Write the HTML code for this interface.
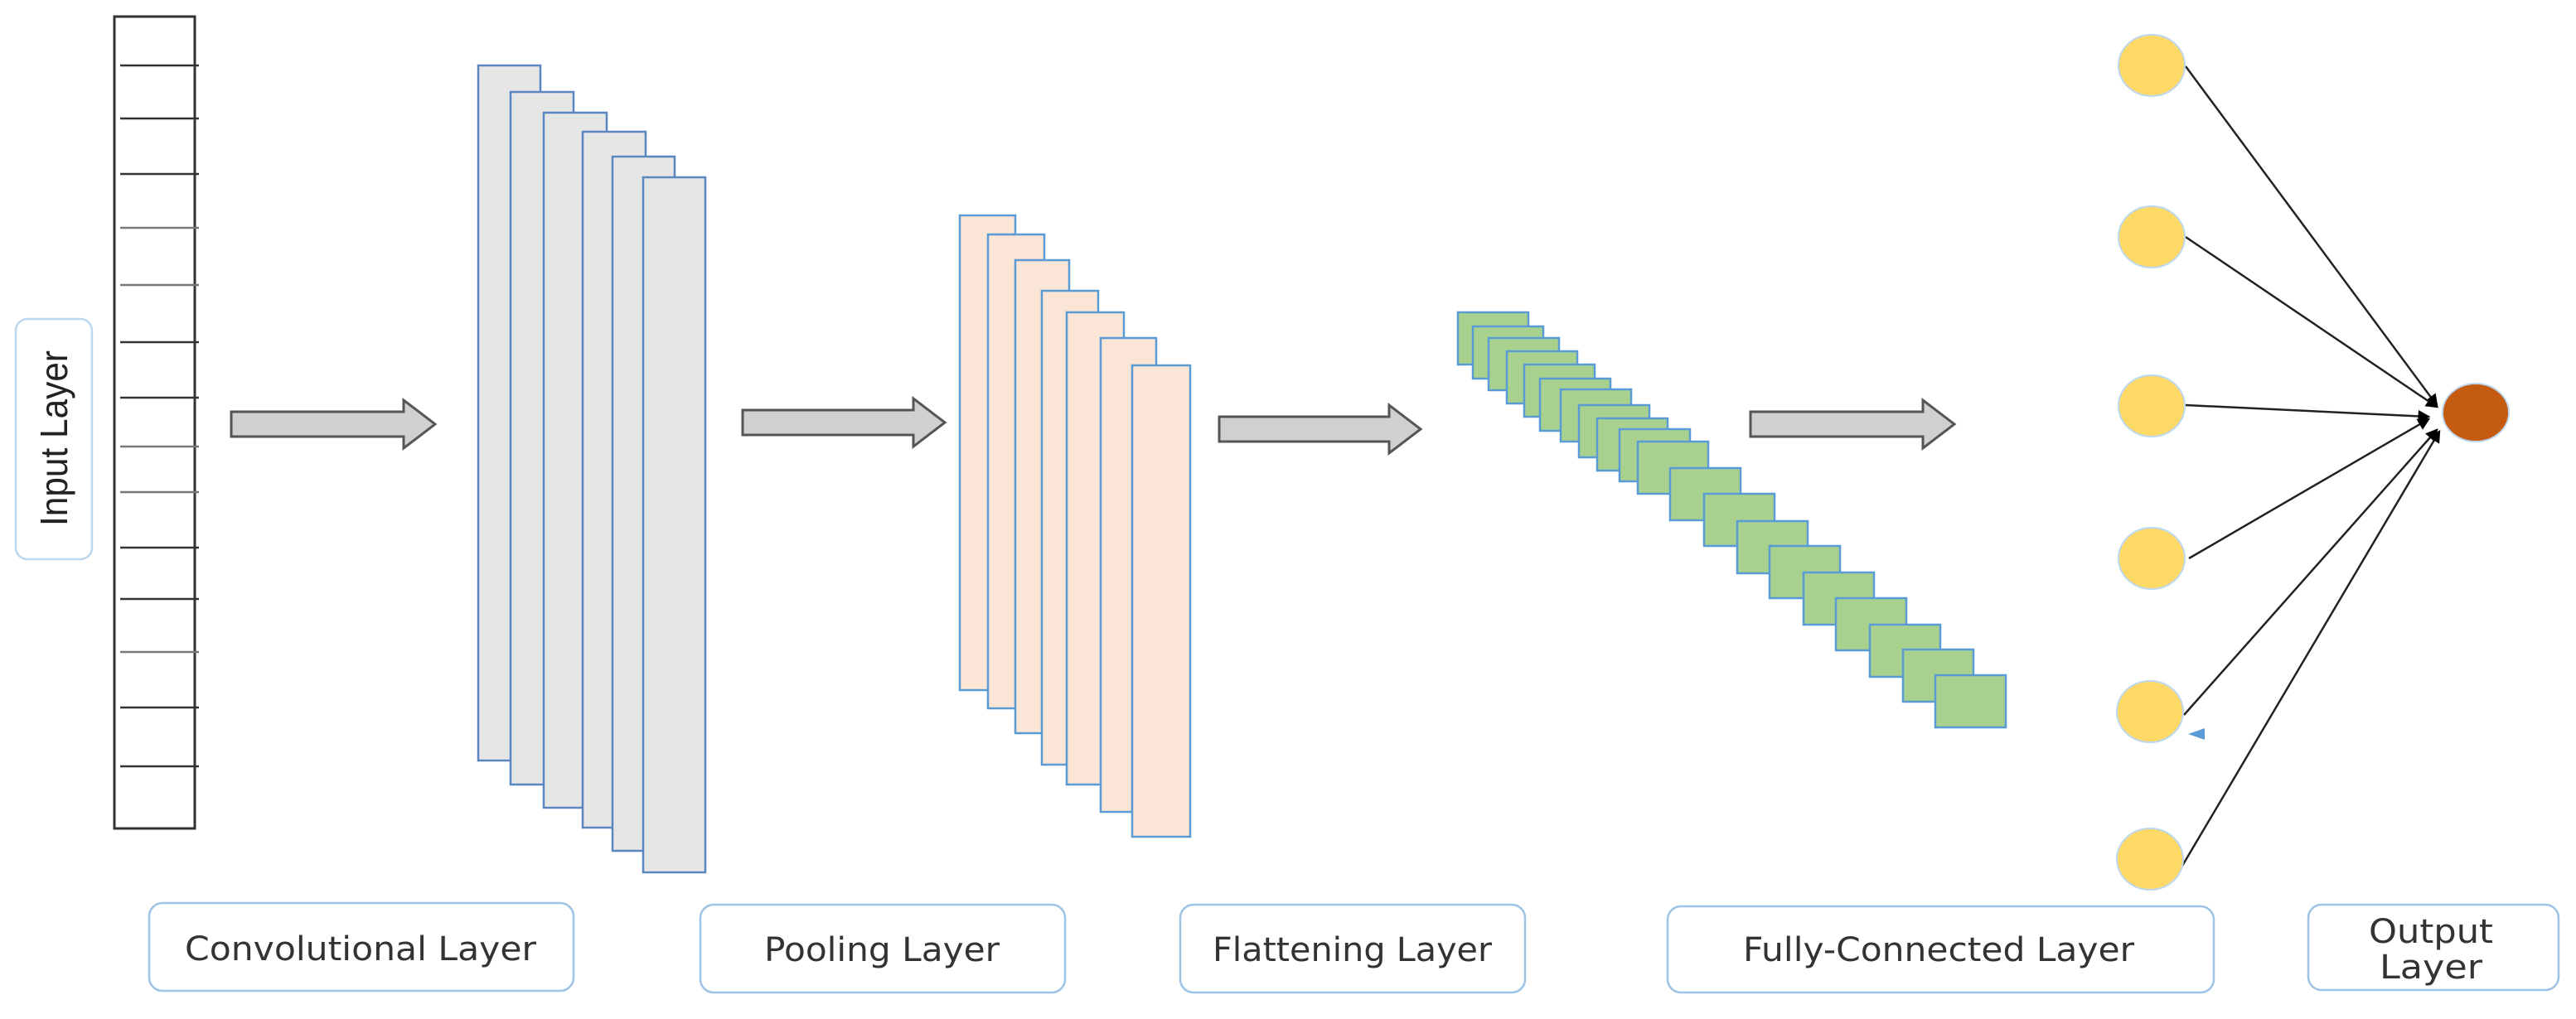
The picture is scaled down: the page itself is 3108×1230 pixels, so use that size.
<!DOCTYPE html>
<html><head><meta charset="utf-8"><style>html,body{margin:0;padding:0;background:#fff}svg{display:block}</style></head>
<body>
<svg width="3108" height="1230" viewBox="0 0 3108 1230" xmlns="http://www.w3.org/2000/svg">
<defs>
<marker id="ah" markerWidth="6" markerHeight="6" refX="5" refY="3" orient="auto" markerUnits="strokeWidth"><path d="M0,0 L6,3 L0,6 z" fill="#000"/></marker>
</defs>
<!-- Input layer label -->
<rect x="19" y="385" width="92" height="290" rx="14" fill="#fff" stroke="#bdd7ee" stroke-width="2.5"/>
<text transform="translate(81,635) rotate(-90)" font-family="Liberation Sans, sans-serif" font-size="46" fill="#222" textLength="212" lengthAdjust="spacingAndGlyphs">Input Layer</text>
<!-- Input bar -->
<rect x="138" y="20" width="97" height="980" fill="#fff" stroke="#333" stroke-width="3"/>
<g stroke="#333" stroke-width="2.5">
<line x1="145" y1="79" x2="240" y2="79"/><line x1="145" y1="143" x2="240" y2="143"/><line x1="145" y1="210" x2="240" y2="210"/>
<line x1="145" y1="275" x2="240" y2="275" stroke="#777"/><line x1="145" y1="344" x2="240" y2="344" stroke="#777"/><line x1="145" y1="413" x2="240" y2="413"/>
<line x1="145" y1="480" x2="240" y2="480"/><line x1="145" y1="539" x2="240" y2="539" stroke="#777"/><line x1="145" y1="594" x2="240" y2="594" stroke="#777"/>
<line x1="145" y1="661" x2="240" y2="661"/><line x1="145" y1="723" x2="240" y2="723"/><line x1="145" y1="787" x2="240" y2="787" stroke="#777"/>
<line x1="145" y1="854" x2="240" y2="854"/><line x1="145" y1="925" x2="240" y2="925"/>
</g>
<!-- arrows -->
<g fill="#d0d0d0" stroke="#555" stroke-width="3">
<path d="M279,497 L487,497 L487,483 L525,512 L487,541 L487,527 L279,527 Z"/>
<path d="M896,495 L1102,495 L1102,481 L1140,510 L1102,539 L1102,525 L896,525 Z"/>
<path d="M1471,503 L1676,503 L1676,489 L1714,518 L1676,547 L1676,533 L1471,533 Z"/>
<path d="M2112,497 L2320,497 L2320,483 L2358,512 L2320,541 L2320,527 L2112,527 Z"/>
</g>
<!-- conv -->
<g fill="#e6e6e6" stroke="#5b87c0" stroke-width="2.5">
<rect x="577" y="79" width="75" height="839"/>
<rect x="616" y="111" width="76" height="836"/>
<rect x="656" y="136" width="76" height="839"/>
<rect x="703" y="159" width="76" height="840"/>
<rect x="739" y="189" width="75" height="838"/>
<rect x="776" y="214" width="75" height="839"/>
</g>
<!-- pool -->
<g fill="#fbe5d6" stroke="#5b9bd5" stroke-width="2.5">
<rect x="1158" y="260" width="67" height="573"/>
<rect x="1192" y="283" width="68" height="572"/>
<rect x="1225" y="314" width="65" height="571"/>
<rect x="1257" y="351" width="68" height="572"/>
<rect x="1287" y="377" width="69" height="570"/>
<rect x="1328" y="408" width="67" height="572"/>
<rect x="1366" y="441" width="70" height="569"/>
</g>
<!-- flatten -->
<g fill="#a9d18e" stroke="#5b9bd5" stroke-width="2.5">
<rect x="1759" y="377" width="85" height="63"/><rect x="1777" y="394" width="85" height="63"/>
<rect x="1796" y="408" width="85" height="63"/><rect x="1818" y="424" width="85" height="63"/>
<rect x="1839" y="440" width="85" height="63"/><rect x="1858" y="457" width="85" height="63"/>
<rect x="1883" y="470" width="85" height="63"/><rect x="1905" y="489" width="85" height="63"/>
<rect x="1927" y="505" width="85" height="63"/><rect x="1954" y="518" width="85" height="63"/>
<rect x="1976" y="533" width="85" height="63"/><rect x="2015" y="565" width="85" height="63"/>
<rect x="2056" y="596" width="85" height="63"/><rect x="2096" y="629" width="85" height="63"/>
<rect x="2135" y="659" width="85" height="63"/><rect x="2176" y="691" width="85" height="63"/>
<rect x="2215" y="722" width="85" height="63"/><rect x="2256" y="754" width="85" height="63"/>
<rect x="2296" y="784" width="85" height="63"/><rect x="2335" y="815" width="85" height="63"/>
</g>
<!-- connections -->
<g stroke="#222" stroke-width="2.5" marker-end="url(#ah)">
<line x1="2637" y1="80" x2="2940" y2="489"/>
<line x1="2637" y1="286" x2="2940" y2="491"/>
<line x1="2637" y1="489" x2="2930" y2="503"/>
<line x1="2641" y1="674" x2="2930" y2="506"/>
<line x1="2635" y1="863" x2="2940" y2="519"/>
<line x1="2633" y1="1045" x2="2943" y2="521"/>
</g>
<!-- neurons -->
<g fill="#ffd966" stroke="#bdd7ee" stroke-width="2">
<ellipse cx="2596" cy="79" rx="40" ry="37"/>
<ellipse cx="2596" cy="286" rx="40" ry="37"/>
<ellipse cx="2596" cy="490" rx="40" ry="37"/>
<ellipse cx="2596" cy="674" rx="40" ry="37"/>
<ellipse cx="2594" cy="859" rx="40" ry="37"/>
<ellipse cx="2594" cy="1037" rx="40" ry="37"/>
</g>
<ellipse cx="2987" cy="498" rx="40" ry="35" fill="#c55a11" stroke="#bdd7ee" stroke-width="2"/>
<path d="M2640,886 L2660,879 L2660,893 Z" fill="#5b9bd5"/>
<!-- label boxes -->
<g fill="#fff" stroke="#9dc3e6" stroke-width="2.5">
<rect x="180" y="1090" width="512" height="106" rx="16"/>
<rect x="845" y="1092" width="440" height="106" rx="16"/>
<rect x="1424" y="1092" width="416" height="106" rx="16"/>
<rect x="2012" y="1094" width="659" height="104" rx="16"/>
<rect x="2785" y="1092" width="302" height="103" rx="16"/>
</g>
<g font-family="DejaVu Sans, sans-serif" font-size="40" fill="#333" lengthAdjust="spacingAndGlyphs">
<text x="223" y="1159" textLength="424" lengthAdjust="spacingAndGlyphs">Convolutional  Layer</text>
<text x="922" y="1160" textLength="284" lengthAdjust="spacingAndGlyphs">Pooling Layer</text>
<text x="1463" y="1160" textLength="337" lengthAdjust="spacingAndGlyphs">Flattening Layer</text>
<text x="2103" y="1160" textLength="472" lengthAdjust="spacingAndGlyphs">Fully-Connected  Layer</text>
<text x="2858" y="1138" textLength="150" lengthAdjust="spacingAndGlyphs">Output</text>
<text x="2871" y="1181" textLength="124" lengthAdjust="spacingAndGlyphs">Layer</text>
</g>
</svg>
</body></html>
